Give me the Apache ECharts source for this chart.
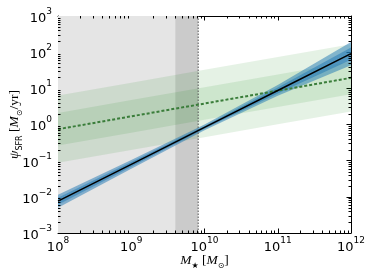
<!DOCTYPE html>
<html>
<head>
<meta charset="utf-8">
<script src="https://cdn.jsdelivr.net/npm/echarts@6/dist/echarts.min.js"></script>
<style>html,body{margin:0;padding:0;background:#fff}#c{width:374px;height:280px}</style>
</head>
<body>
<div id="c"></div>
<script>
// ---- data ----
const massGrid   = [1e8, 1e9, 1e10, 1e11, 1e12];
const fitSFR     = [0.0076, 0.079, 0.83, 8.7, 91];
const fitInnerLo = [0.0060, 0.068, 0.76, 7.2, 61.7];
const fitInnerHi = [0.0095, 0.092, 0.91, 10.5, 135];
const fitOuterLo = [0.0050, 0.060, 0.69, 6.2, 43.6];
const fitOuterHi = [0.0115, 0.105, 1.0, 12.3, 190];
const msSFR      = [0.74, 1.68, 3.80, 8.6, 19.5];
const msInnerLo  = [0.263, 0.596, 1.35, 3.05, 6.9];
const msInnerHi  = [2.09, 4.73, 10.7, 24.3, 55];
const msOuterLo  = [0.087, 0.197, 0.447, 1.01, 2.29];
const msOuterHi  = [6.3, 14.3, 32.4, 73.3, 166];
const shadedRegion = [1e8, 8.2e9];
const darkRegion   = [4.0e9, 8.2e9];
const limitMass    = 8.2e9;
const xRange = [1e8, 1e12];
const yRange = [1e-3, 1e3];
const xMajorTicks = [1e8, 1e9, 1e10, 1e11, 1e12];
const yMajorTicks = [1e-3, 1e-2, 1e-1, 1e0, 1e1, 1e2, 1e3];

function minorTicks(range) {
  const out = [];
  const e0 = Math.round(Math.log10(range[0])), e1 = Math.round(Math.log10(range[1]));
  for (let e = e0; e < e1; e++) for (let m = 2; m <= 9; m++) out.push(m * Math.pow(10, e));
  return out;
}
const xMinor = minorTicks(xRange);
const yMinor = minorTicks(yRange);

const chart = echarts.init(document.getElementById('c'), null, {renderer: 'canvas'});

const tickRich = {
  b: {fontFamily: 'DejaVu Sans', fontSize: 13, lineHeight: 18, verticalAlign: 'bottom', color: '#000'},
  s: {fontFamily: 'DejaVu Sans', fontSize: 9, lineHeight: 10, verticalAlign: 'top', color: '#000'}
};
function tickFmt(v) {
  const e = Math.round(Math.log10(v));
  return '{b|10}{s|' + (e < 0 ? '\u2212' + (-e) : e) + '}';
}
const nameRich = {
  i: {fontFamily: 'Liberation Serif', fontStyle: 'italic', fontSize: 13.5, lineHeight: 17, verticalAlign: 'top', color: '#000'},
  r: {fontFamily: 'Liberation Serif', fontSize: 13.5, lineHeight: 17, verticalAlign: 'top', color: '#000'},
  sub: {fontFamily: 'DejaVu Sans', fontSize: 8, lineHeight: 9, verticalAlign: 'bottom', color: '#000'}
};

function baseAxis(range, extra) {
  return Object.assign({
    type: 'log', logBase: 10, min: range[0], max: range[1],
    axisLine: {show: true, onZero: false, lineStyle: {color: '#000', width: 1}},
    axisTick: {show: true, inside: true, length: 4.5, lineStyle: {color: '#000', width: 1}},
    splitLine: {show: false},
    minorTick: {show: false},
    nameMoveOverlap: false
  }, extra);
}

function rectSeries(xr, color, z) {
  return {
    type: 'custom', coordinateSystem: 'cartesian2d', silent: true, z: z,
    data: [[xr[0], yRange[0]]],
    renderItem: function (params, api) {
      const p0 = api.coord([xr[0], yRange[1]]);
      const p1 = api.coord([xr[1], yRange[0]]);
      return {type: 'rect', shape: {x: p0[0], y: p0[1], width: p1[0] - p0[0], height: p1[1] - p0[1]}, style: {fill: color}};
    }
  };
}
function bandSeries(lo, hi, color, z) {
  return {
    type: 'custom', coordinateSystem: 'cartesian2d', silent: true, z: z,
    data: [[massGrid[0], lo[0]]],
    renderItem: function (params, api) {
      const pts = [];
      for (let i = 0; i < massGrid.length; i++) pts.push(api.coord([massGrid[i], hi[i]]));
      for (let i = massGrid.length - 1; i >= 0; i--) pts.push(api.coord([massGrid[i], lo[i]]));
      return {type: 'polygon', shape: {points: pts}, style: {fill: color}};
    }
  };
}
const minorSeries = {
  type: 'custom', coordinateSystem: 'cartesian2d', silent: true, z: 20,
  data: [[xRange[0], yRange[0]]],
  renderItem: function (params, api) {
    const ch = [];
    const L = 2.5;
    const st = {stroke: '#000', lineWidth: 1};
    xMinor.forEach(function (v) {
      const b = api.coord([v, yRange[0]]), t = api.coord([v, yRange[1]]);
      const x = Math.round(b[0]) + 0.5;
      ch.push({type: 'line', shape: {x1: x, y1: b[1], x2: x, y2: b[1] - L}, style: st});
      ch.push({type: 'line', shape: {x1: x, y1: t[1], x2: x, y2: t[1] + L}, style: st});
    });
    yMinor.forEach(function (v) {
      const l = api.coord([xRange[0], v]), r = api.coord([xRange[1], v]);
      const y = Math.round(l[1]) + 0.5;
      ch.push({type: 'line', shape: {x1: l[0], y1: y, x2: l[0] + L, y2: y}, style: st});
      ch.push({type: 'line', shape: {x1: r[0], y1: y, x2: r[0] - L, y2: y}, style: st});
    });
    return {type: 'group', children: ch};
  }
};

const option = {
  animation: false,
  backgroundColor: '#fff',
  grid: {left: 58, right: 23, top: 16, bottom: 47, containLabel: false, outerBoundsMode: 'none'},
  xAxis: [
    baseAxis(xRange, {
      position: 'bottom',
      axisLabel: {show: true, margin: 3, formatter: tickFmt, rich: tickRich},
      name: '{i|M}{sub|\u2605}{r| [}{i|M}{sub|\u2299}{r|]}',
      nameLocation: 'middle', nameGap: 20,
      nameTextStyle: {rich: nameRich}
    }),
    baseAxis(xRange, {position: 'top', axisLabel: {show: false}})
  ],
  yAxis: [
    baseAxis(yRange, {
      position: 'left',
      axisLabel: {show: true, margin: 6, formatter: tickFmt, rich: tickRich},
      name: '{i|\u03c8}{sub|SFR}{r| [}{i|M}{sub|\u2299}{r|/yr]}',
      nameLocation: 'middle', nameGap: 34, nameRotate: 90,
      nameTextStyle: {rich: nameRich}
    }),
    baseAxis(yRange, {position: 'right', axisLabel: {show: false}})
  ],
  series: [
    rectSeries(shadedRegion, '#e5e5e5', 1),
    rectSeries(darkRegion, 'rgba(128,128,128,0.25)', 2),
    bandSeries(msOuterLo, msOuterHi, 'rgba(0,128,0,0.10)', 3),
    bandSeries(msInnerLo, msInnerHi, 'rgba(0,128,0,0.10)', 4),
    bandSeries(fitOuterLo, fitOuterHi, 'rgba(31,119,180,0.5)', 5),
    bandSeries(fitInnerLo, fitInnerHi, 'rgba(31,119,180,0.5)', 6),
    {
      type: 'line', z: 7, silent: true, showSymbol: false,
      data: [[limitMass, yRange[0]], [limitMass, yRange[1]]],
      lineStyle: {color: '#555', width: 1, type: [1.5, 1.5]}
    },
    {
      type: 'line', z: 8, silent: true, showSymbol: false,
      data: massGrid.map(function (m, i) { return [m, msSFR[i]]; }),
      lineStyle: {color: '#3a7d3a', width: 2, type: [3, 2]}
    },
    {
      type: 'line', z: 9, silent: true, showSymbol: false,
      data: massGrid.map(function (m, i) { return [m, fitSFR[i]]; }),
      lineStyle: {color: '#000', width: 1.5}
    },
    minorSeries
  ]
};
chart.setOption(option);
</script>
</body>
</html>
